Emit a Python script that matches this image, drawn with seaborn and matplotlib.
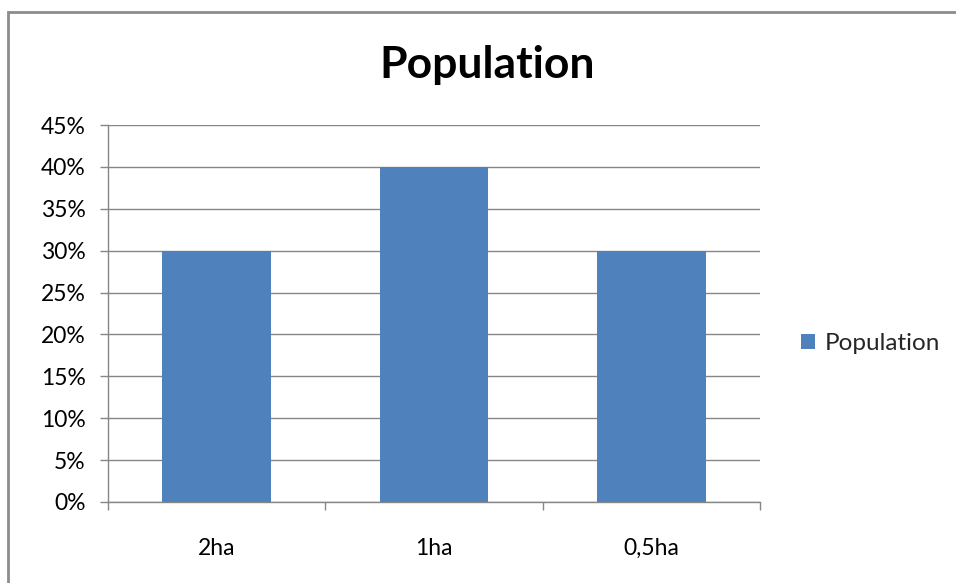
import matplotlib.pyplot as plt
import matplotlib.patches as patches
from matplotlib.ticker import FuncFormatter, FixedLocator
import seaborn as sns
import pandas as pd

# Data
categories = ['2ha', '1ha', '0,5ha']
population = [0.30, 0.40, 0.30]
df = pd.DataFrame({'Area': categories, 'Population': population})

sns.set_theme(style='white')
plt.rcParams['font.family'] = ['Lato', 'DejaVu Sans']

fig = plt.figure(figsize=(9.56, 5.83), dpi=100)
ax = fig.add_axes([108 / 956, 1 - 502 / 583, (760 - 108) / 956, (502 - 125) / 583])

bar_color = '#4F81BD'
grid_color = '#868686'
sns.barplot(data=df, x='Area', y='Population', ax=ax, color=bar_color,
            width=0.5, saturation=1, label='Population', linewidth=0)

ax.set_xlim(-0.5, 2.5)
ax.set_ylim(0, 0.45)
ax.set_yticks([i * 0.05 for i in range(10)])
ax.yaxis.set_major_formatter(FuncFormatter(lambda v, p: f'{round(v * 100)}%'))
ax.grid(axis='y', color=grid_color, linewidth=1)
ax.set_axisbelow(True)

for side in ['top', 'right']:
    ax.spines[side].set_visible(False)
for side in ['left', 'bottom']:
    ax.spines[side].set_color(grid_color)
    ax.spines[side].set_linewidth(1)

# Category tick marks sit between the categories, like Excel
ax.xaxis.set_minor_locator(FixedLocator([-0.5, 0.5, 1.5, 2.5]))
ax.tick_params(axis='x', which='major', length=0, pad=26, labelsize=16.5, colors='#000000')
ax.tick_params(axis='x', which='minor', length=6, width=1, color=grid_color, bottom=True)
ax.tick_params(axis='y', which='major', length=6, width=1, color=grid_color, left=True,
               labelsize=16.5, labelcolor='#000000', pad=10)
ax.set_xlabel('')
ax.set_ylabel('')

fig.text(487 / 956, 1 - 65 / 583, 'Population', ha='center', va='center',
         fontsize=32, fontweight='bold', color='#000000')

ax.legend(loc='center left', bbox_to_anchor=(1.03, 0.42), frameon=False,
          handlelength=0.55, handleheight=0.55, handletextpad=0.4, fontsize=17.5)

# Outer chart border (only top and left visible in the crop)
fig.patches.append(patches.Rectangle((8 / 956, -0.1), 2, 1 - 12 / 583 + 0.1,
                                     transform=fig.transFigure, fill=False,
                                     edgecolor='#8C8C8C', linewidth=2))

fig.savefig('out.png', dpi=100)
